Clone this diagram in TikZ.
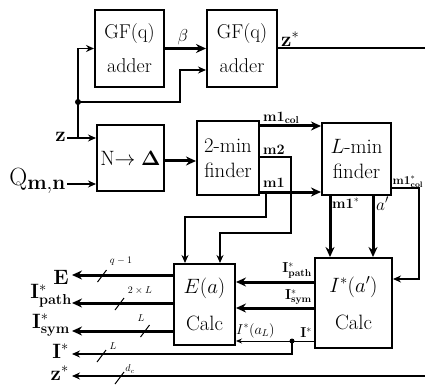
\documentclass[tikz,border=0pt]{standalone}
\usepackage{amsmath}
\usepackage{amssymb}
\usepackage{tikz}
\usetikzlibrary{arrows.meta}

\begin{document}
\begin{tikzpicture}[x=1pt,y=-1pt,
  block/.style={draw,line width=2pt,inner sep=0pt,align=center,font=\huge},
  fine/.style={-{Stealth[length=6pt,width=5pt]},line width=0.9pt},
  sig/.style={-{Stealth[length=8pt,width=7pt]},line width=1.6pt},
  bus/.style={-{Stealth[length=10pt,width=9pt]},line width=3pt},
  lab/.style={inner sep=1pt,font=\Large},
  outlab/.style={anchor=east,inner sep=1pt,font=\huge}]
  \useasboundingbox (0,0) rectangle (425,390);
  \coordinate (redge) at (430,0);

  % blocks
  \node[block,font=\fontsize{20}{24}\selectfont,minimum width=69pt,minimum height=77pt] (gfa) at (129.5,48.5) {GF(q)\\[10pt]adder};
  \node[block,font=\fontsize{20}{24}\selectfont,minimum width=70pt,minimum height=77pt] (gfb) at (242,48.5) {GF(q)\\[10pt]adder};
  \node[block,minimum width=67pt,minimum height=66pt] (nd) at (130.5,158) {N$\rightarrow\boldsymbol{\Delta}$};
  \node[block,minimum width=62pt,minimum height=74pt] (twomin) at (228,158) {2-min\\finder};
  \node[block,minimum width=69pt,minimum height=72pt] (lmin) at (356.5,159) {$L$-min\\finder};
  \node[block,minimum width=77pt,minimum height=90pt] (icalc) at (353.5,303) {$I^*(a')$\\[12pt]Calc};
  \node[block,minimum width=61pt,minimum height=81pt] (ecalc) at (204.5,304.5) {$E(a)$\\[12pt]Calc};

  % inputs
  \node[outlab] (zin) at (67,137) {$\mathbf{z}$};
  \node[outlab,font=\Huge] (qin) at (67,181) {$\mathrm{Q}_{\mathbf{m,n}}$};
  \coordinate (zs) at (78,138);
  \coordinate (qs) at (67,184);
  \coordinate (zd) at (78,102);
  \coordinate (zb) at (180,70);
  \draw[sig] (zs -| zin.east) -- (zs -| nd.west);
  \draw[sig] (qs) -- (qs -| nd.west);
  \draw[sig] (zs) |- (gfa.west);
  \draw[sig] (zd) -| (zb) -- (zb -| gfb.west);
  \fill (zd) circle (3pt);

  % adders
  \draw[bus] (gfa) -- (gfb);
  \node[font=\LARGE,anchor=south,inner sep=1pt] (beta) at (183,46) {$\beta$};
  \draw[line width=2pt] (gfb.east) -- (gfb.east -| redge);
  \node[font=\huge,anchor=south west,inner sep=1pt] (zst) at ([xshift=2pt,yshift=1pt]gfb.east) {$\mathbf{z}^*$};

  % finders
  \draw[bus] ([yshift=-3pt]nd.east) -- ([yshift=-3pt]nd.east -| twomin.west);
  \coordinate (mc) at ([yshift=32pt]twomin.east);
  \coordinate (m2) at ([yshift=1pt]twomin.east);
  \coordinate (m1) at ([yshift=-34pt]twomin.east);
  \coordinate (m1t) at (266,192);
  \draw[bus] (mc) -- (mc -| lmin.west);
  \draw[bus] (m1) -- (m1 -| lmin.west);
  \draw[sig] (m2) -| (291,233) -| ([xshift=15.5pt]ecalc.north);
  \draw[sig] (m1t) |- (185,217) -| ([xshift=-19.5pt]ecalc.north);
  \node[lab,anchor=south west] (lmc) at (262,125) {$\mathbf{m1}_{\mathbf{col}}$};
  \node[lab,anchor=south west] (lm2) at (262,156) {$\mathbf{m2}$};
  \node[lab,anchor=south west] (lm1) at (262,189) {$\mathbf{m1}$};

  \coordinate (ms) at ([xshift=-26.5pt]lmin.south);
  \coordinate (as) at ([xshift=16.5pt]lmin.south);
  \coordinate (mcs) at ([yshift=-29pt]lmin.east);
  \coordinate (mcb) at (419,279);
  \draw[bus] (ms) -- (ms |- icalc.north);
  \draw[bus] (as) -- (as |- icalc.north);
  \draw[sig] (mcs) -| (mcb) -- (mcb -| icalc.east);
  \node[lab,anchor=north west] (lms) at (331,197) {$\mathbf{m1}^*$};
  \node[font=\LARGE,anchor=north west,inner sep=1pt] (lap) at (375,196) {$a'$};
  \node[inner sep=0.5pt,font=\large,anchor=south west] (lmcs) at (392,188) {$\mathbf{m1}^*_{\mathbf{col}}$};

  % I* calc to E calc
  \coordinate (ip) at ([yshift=21pt]icalc.west);
  \coordinate (is) at ([yshift=-5pt]icalc.west);
  \coordinate (ii) at ([yshift=-38pt]icalc.west);
  \coordinate (ib) at (292,341);
  \draw[bus] (ip) -- (ip -| ecalc.east);
  \draw[bus] (is) -- (is -| ecalc.east);
  \draw[fine] (ii) -- (ii -| ecalc.east);
  \fill (ib) circle (2.5pt);
  \node[lab,anchor=south east] (lip) at (313,280) {$\mathbf{I}^*_{\mathbf{path}}$};
  \node[lab,anchor=south east] (lis) at (313,306) {$\mathbf{I}^*_{\mathbf{sym}}$};
  \node[lab,anchor=south east] (lii) at (313,339) {$\mathbf{I}^*$};
  \node[lab,anchor=south west] (lial) at (235,339) {$I^*(a_L)$};

  % outputs
  \coordinate (te) at (72,275);
  \coordinate (tp) at (72,303);
  \coordinate (ts) at (72,331);
  \coordinate (ti) at (72,354);
  \coordinate (tz) at (72,376);
  \draw[bus] (ecalc.west |- te) -- (te);
  \draw[bus] (ecalc.west |- tp) -- (tp);
  \draw[bus] (ecalc.west |- ts) -- (ts);
  \draw[sig] (ib) |- (ti);
  \draw[sig] (redge |- tz) -- (tz);
  \node[outlab] (oe) at (70,277) {$\mathbf{E}$};
  \node[outlab] (op) at (73,296) {$\mathbf{I}^*_{\mathbf{path}}$};
  \node[outlab] (os) at (71,325) {$\mathbf{I}^*_{\mathbf{sym}}$};
  \node[outlab] (oi) at (70,351) {$\mathbf{I}^*$};
  \node[outlab] (oz) at (70,373) {$\mathbf{z}^*$};

  % bus widths
  \foreach \x/\y/\a/\b/\t [count=\i] in {102/276/121/261/$q-1$, 119.5/304/140/290/$2\times L$,
      145/331/141/318/$L$, 101.5/356/113/346/$L$, 119.5/378/130/369/$d_c$}
  {
    \draw[line width=1pt] (\x-4.5,\y+6) -- (\x+4.5,\y-6);
    \node[inner sep=0pt] (tick\i) at (\a,\b) {\t};
  }
\end{tikzpicture}
\end{document}
